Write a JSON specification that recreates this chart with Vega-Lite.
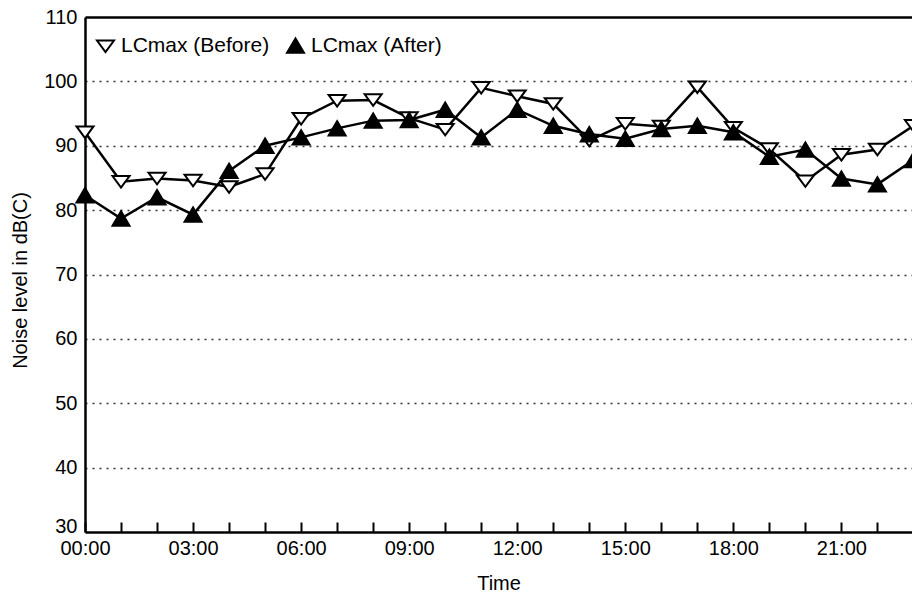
{
  "$schema": "https://vega.github.io/schema/vega-lite/v6.json",
  "width": 827,
  "height": 515,
  "autosize": {"type": "none"},
  "padding": {"left": 85, "top": 17, "right": 0, "bottom": 70},
  "background": "white",
  "config": {
    "font": "Liberation Sans",
    "view": {"stroke": null},
    "axis": {"labelColor": "black", "titleColor": "black", "labelFont": "Liberation Sans", "titleFont": "Liberation Sans", "titleFontWeight": "normal", "domainColor": "black", "tickColor": "black"},
    "legend": {"labelFont": "Liberation Sans", "labelColor": "black"}
  },
  "data": {
    "values": [
      {"hour": 0, "series": "LCmax (Before)", "value": 92.1},
      {"hour": 1, "series": "LCmax (Before)", "value": 84.4},
      {"hour": 2, "series": "LCmax (Before)", "value": 84.9},
      {"hour": 3, "series": "LCmax (Before)", "value": 84.6},
      {"hour": 4, "series": "LCmax (Before)", "value": 83.6},
      {"hour": 5, "series": "LCmax (Before)", "value": 85.6},
      {"hour": 6, "series": "LCmax (Before)", "value": 94.2},
      {"hour": 7, "series": "LCmax (Before)", "value": 97.0},
      {"hour": 8, "series": "LCmax (Before)", "value": 97.1},
      {"hour": 9, "series": "LCmax (Before)", "value": 94.3},
      {"hour": 10, "series": "LCmax (Before)", "value": 92.5},
      {"hour": 11, "series": "LCmax (Before)", "value": 99.0},
      {"hour": 12, "series": "LCmax (Before)", "value": 97.7},
      {"hour": 13, "series": "LCmax (Before)", "value": 96.5},
      {"hour": 14, "series": "LCmax (Before)", "value": 90.8},
      {"hour": 15, "series": "LCmax (Before)", "value": 93.4},
      {"hour": 16, "series": "LCmax (Before)", "value": 93.0},
      {"hour": 17, "series": "LCmax (Before)", "value": 99.1},
      {"hour": 18, "series": "LCmax (Before)", "value": 92.8},
      {"hour": 19, "series": "LCmax (Before)", "value": 89.5},
      {"hour": 20, "series": "LCmax (Before)", "value": 84.5},
      {"hour": 21, "series": "LCmax (Before)", "value": 88.6},
      {"hour": 22, "series": "LCmax (Before)", "value": 89.4},
      {"hour": 23, "series": "LCmax (Before)", "value": 93.1},
      {"hour": 0, "series": "LCmax (After)", "value": 82.3},
      {"hour": 1, "series": "LCmax (After)", "value": 78.7},
      {"hour": 2, "series": "LCmax (After)", "value": 82.0},
      {"hour": 3, "series": "LCmax (After)", "value": 79.3},
      {"hour": 4, "series": "LCmax (After)", "value": 86.1},
      {"hour": 5, "series": "LCmax (After)", "value": 90.0},
      {"hour": 6, "series": "LCmax (After)", "value": 91.3},
      {"hour": 7, "series": "LCmax (After)", "value": 92.7},
      {"hour": 8, "series": "LCmax (After)", "value": 93.9},
      {"hour": 9, "series": "LCmax (After)", "value": 94.0},
      {"hour": 10, "series": "LCmax (After)", "value": 95.6},
      {"hour": 11, "series": "LCmax (After)", "value": 91.3},
      {"hour": 12, "series": "LCmax (After)", "value": 95.6},
      {"hour": 13, "series": "LCmax (After)", "value": 93.1},
      {"hour": 14, "series": "LCmax (After)", "value": 91.8},
      {"hour": 15, "series": "LCmax (After)", "value": 91.1},
      {"hour": 16, "series": "LCmax (After)", "value": 92.6},
      {"hour": 17, "series": "LCmax (After)", "value": 93.1},
      {"hour": 18, "series": "LCmax (After)", "value": 92.1},
      {"hour": 19, "series": "LCmax (After)", "value": 88.3},
      {"hour": 20, "series": "LCmax (After)", "value": 89.4},
      {"hour": 21, "series": "LCmax (After)", "value": 84.9},
      {"hour": 22, "series": "LCmax (After)", "value": 84.0},
      {"hour": 23, "series": "LCmax (After)", "value": 87.8}
    ]
  },
  "encoding": {
    "x": {
      "field": "hour",
      "type": "quantitative",
      "scale": {"domain": [0, 22.96], "nice": false, "zero": false},
      "axis": {
        "title": "Time",
        "titleFontSize": 20,
        "titleX": 413.5,
        "titleY": 51,
        "titleBaseline": "middle",
        "titleAlign": "center",
        "values": [0,1,2,3,4,5,6,7,8,9,10,11,12,13,14,15,16,17,18,19,20,21,22],
        "labelExpr": "datum.value % 3 == 0 ? (datum.value < 10 ? '0' : '') + datum.value + ':00' : ''",
        "labelFontSize": 20,
        "labelPadding": 16,
        "labelFlush": false,
        "labelOverlap": false,
        "tickSize": -10,
        "tickWidth": 2,
        "domainWidth": 2.5,
        "grid": false
      }
    },
    "y": {
      "field": "value",
      "type": "quantitative",
      "scale": {"domain": [30, 110], "nice": false, "zero": false},
      "axis": {
        "title": "Noise level in dB(C)",
        "titleFontSize": 20,
        "titleAngle": 270,
        "titleX": -65,
        "titleY": 263,
        "titleAlign": "center",
        "titleBaseline": "middle",
        "values": [30, 40, 50, 60, 70, 80, 90, 100, 110],
        "labelFontSize": 20,
        "labelPadding": 8,
        "labelFlush": false,
        "labelOverlap": false,
        "labelOffset": {"condition": {"test": "datum.value == 30", "value": -6}, "value": 0},
        "ticks": false,
        "domainWidth": 2.5,
        "grid": true,
        "gridDash": {"condition": {"test": "datum.value == 110", "value": []}, "value": [2, 5]},
        "gridColor": {"condition": {"test": "datum.value == 110", "value": "black"}, "value": "#333333"},
        "gridWidth": {"condition": {"test": "datum.value == 110", "value": 2.5}, "value": 1.5},
        "gridOpacity": {"condition": {"test": "datum.value == 30", "value": 0}, "value": 1}
      }
    }
  },
  "layer": [
    {
      "mark": {"type": "line", "color": "black", "strokeWidth": 2.5, "clip": false},
      "encoding": {"detail": {"field": "series"}}
    },
    {
      "mark": {"type": "point", "filled": true, "strokeWidth": 2, "opacity": 1, "size": 289, "clip": false},
      "encoding": {
        "shape": {
          "field": "series",
          "type": "nominal",
          "scale": {"domain": ["LCmax (Before)", "LCmax (After)"], "range": ["M-1,-0.68L1,-0.68L0,0.68Z", "M-1,0.85L1,0.85L0,-0.85Z"]},
          "legend": {
            "title": null,
            "orient": "none",
            "legendX": 10,
            "legendY": 18,
            "direction": "horizontal",
            "labelFontSize": 21,
            "labelOffset": 5,
            "columnPadding": 13,
            "symbolSize": 289,
            "symbolStrokeWidth": 2,
            "padding": 0
          }
        },
        "fill": {
          "field": "series",
          "type": "nominal",
          "scale": {"domain": ["LCmax (Before)", "LCmax (After)"], "range": ["white", "black"]},
          "legend": {
            "title": null,
            "orient": "none",
            "legendX": 10,
            "legendY": 18,
            "direction": "horizontal",
            "labelFontSize": 21,
            "labelOffset": 5,
            "columnPadding": 13,
            "symbolSize": 289,
            "symbolStrokeWidth": 2,
            "padding": 0
          }
        },
        "stroke": {
          "field": "series",
          "type": "nominal",
          "scale": {"domain": ["LCmax (Before)", "LCmax (After)"], "range": ["black", "black"]},
          "legend": {
            "title": null,
            "orient": "none",
            "legendX": 10,
            "legendY": 18,
            "direction": "horizontal",
            "labelFontSize": 21,
            "labelOffset": 5,
            "columnPadding": 13,
            "symbolSize": 289,
            "symbolStrokeWidth": 2,
            "padding": 0
          }
        }
      }
    }
  ]
}
